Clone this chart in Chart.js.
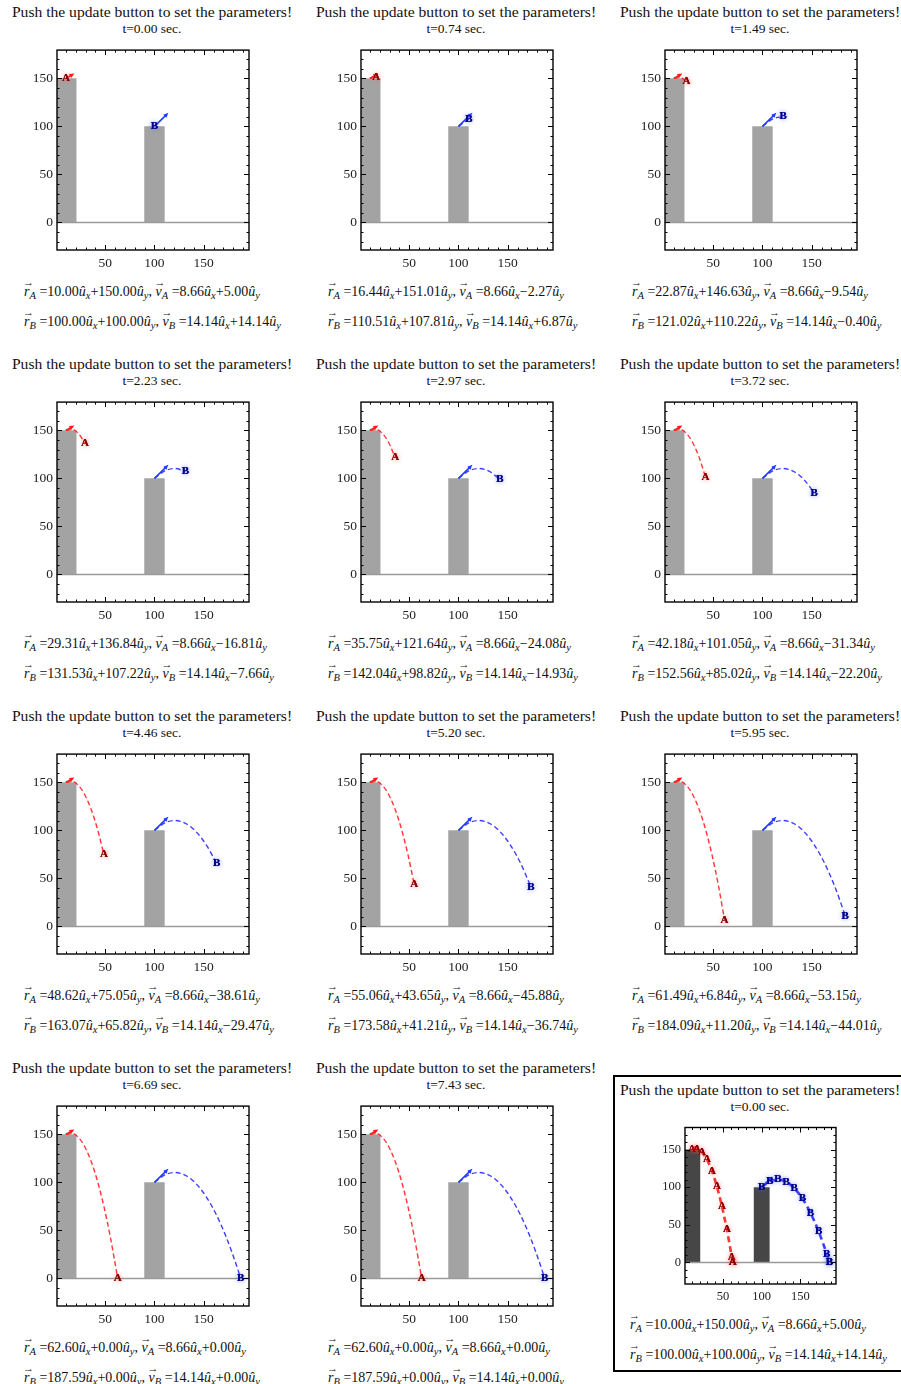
<!DOCTYPE html>
<html>
<head>
<meta charset="utf-8">
<script src="https://cdn.jsdelivr.net/npm/chart.js@4.4.1/dist/chart.umd.min.js"></script>
<style>
    body { margin: 0; background: #fff; width: 901px; height: 1384px; position: relative; overflow: hidden;
           font-family: "Liberation Serif", "DejaVu Serif", serif; color: #111; }
    .panel { position: absolute; width: 304px; height: 352px; }
    .title { position: absolute; left: 0; width: 304px; text-align: center; font-size: 15.6px; line-height: 16px; white-space: nowrap; }
    .time { position: absolute; left: 0; width: 304px; text-align: center; font-size: 13.5px; line-height: 14px; white-space: nowrap; }
    .line { position: absolute; font-size: 14px; line-height: 16px; white-space: nowrap; }
    .line sub { font-size: 10.5px; font-style: italic; vertical-align: -3px; line-height: 0; }
    .vec { position: relative; display: inline-block; font-style: italic; }
    .vec::before { content: "\2192"; position: absolute; left: -1px; top: -10px; font-size: 11px; font-style: normal; }
    .u { font-style: italic; }
    canvas { position: absolute; }
    .box { position: absolute; left: 613px; top: 1075px; width: 300px; height: 297px; border: 2.5px solid #000; box-sizing: border-box; }
</style>
</head>
<body>
<div class="box"></div>
<script>
// Значення, зчитані з підписів під кожним кадром
const times = [0.00, 0.74, 1.49, 2.23, 2.97, 3.72, 4.46, 5.20, 5.95, 6.69, 7.43];
const rAx = [10.00, 16.44, 22.87, 29.31, 35.75, 42.18, 48.62, 55.06, 61.49, 62.60, 62.60];
const rAy = [150.00, 151.01, 146.63, 136.84, 121.64, 101.05, 75.05, 43.65, 6.84, 0.00, 0.00];
const vAx = [8.66, 8.66, 8.66, 8.66, 8.66, 8.66, 8.66, 8.66, 8.66, 8.66, 8.66];
const vAy = [5.00, -2.27, -9.54, -16.81, -24.08, -31.34, -38.61, -45.88, -53.15, 0.00, 0.00];
const rBx = [100.00, 110.51, 121.02, 131.53, 142.04, 152.56, 163.07, 173.58, 184.09, 187.59, 187.59];
const rBy = [100.00, 107.81, 110.22, 107.22, 98.82, 85.02, 65.82, 41.21, 11.20, 0.00, 0.00];
const vBx = [14.14, 14.14, 14.14, 14.14, 14.14, 14.14, 14.14, 14.14, 14.14, 14.14, 14.14];
const vBy = [14.14, 6.87, -0.40, -7.66, -14.93, -22.20, -29.47, -36.74, -44.01, 0.00, 0.00];

// Вежі (ліва/права межа та висота)
const towerLeft = [0, 89.5];
const towerRight = [21, 110.5];
const towerHeight = [150, 100];

// Підписи осей
const xTickLabels = [50, 100, 150];
const yTickLabels = [0, 50, 100, 150];
const xRange = [1, 196];
const yRange = [-28.7, 179.4];

const titleText = "Push the update button to set the parameters!";

function fmt(v) {
    return (v < 0 ? "\u2212" : "") + Math.abs(v).toFixed(2);
}
function fmtSigned(v) {
    return (v < 0 ? "\u2212" : "+") + Math.abs(v).toFixed(2);
}
function vecLine(name, rx, ry, vx, vy) {
    return '<span class="vec">r</span><sub>' + name + '</sub> =' + fmt(rx) + '<span class="u">û</span><sub>x</sub>' +
        fmtSigned(ry) + '<span class="u">û</span><sub>y</sub>, ' +
        '<span class="vec">v</span><sub>' + name + '</sub> =' + fmt(vx) + '<span class="u">û</span><sub>x</sub>' +
        fmtSigned(vy) + '<span class="u">û</span><sub>y</sub>';
}

function path(xs, ys, k) {
    const pts = [];
    for (let i = 0; i <= k; i++) {
        const last = pts[pts.length - 1];
        if (last && last.x === xs[i] && last.y === ys[i]) continue;
        pts.push({ x: xs[i], y: ys[i] });
    }
    return pts;
}

function drawArrow(ctx, x0, y0, x1, y1, color, w) {
    const a = Math.atan2(y1 - y0, x1 - x0);
    const head = 5;
    ctx.save();
    ctx.strokeStyle = color;
    ctx.fillStyle = color;
    ctx.lineWidth = w;
    ctx.beginPath();
    ctx.moveTo(x0, y0);
    ctx.lineTo(x1 - Math.cos(a) * head * 0.6, y1 - Math.sin(a) * head * 0.6);
    ctx.stroke();
    ctx.beginPath();
    ctx.moveTo(x1, y1);
    ctx.lineTo(x1 - head * Math.cos(a) + 2.2 * Math.sin(a), y1 - head * Math.sin(a) - 2.2 * Math.cos(a));
    ctx.lineTo(x1 - head * Math.cos(a) - 2.2 * Math.sin(a), y1 - head * Math.sin(a) + 2.2 * Math.cos(a));
    ctx.closePath();
    ctx.fill();
    ctx.restore();
}

function drawMarker(ctx, text, x, y, color, glow) {
    ctx.save();
    ctx.font = 'bold 11px "Liberation Serif"';
    ctx.textAlign = "center";
    ctx.textBaseline = "middle";
    ctx.shadowColor = glow;
    ctx.shadowBlur = 4;
    ctx.fillStyle = color;
    ctx.fillText(text, x, y);
    ctx.shadowBlur = 0;
    ctx.fillText(text, x, y);
    ctx.restore();
}

// Рамка з внутрішніми поділками, лінія землі, стрілки швидкості та мітки A/B
const framePlugin = {
    id: "frame",
    afterDatasetsDraw(chart, args, opts) {
        const ctx = chart.ctx;
        const xs = chart.scales.x, ys = chart.scales.y;
        const area = chart.chartArea;
        ctx.save();
        ctx.beginPath();
        ctx.rect(area.left, area.top, area.right - area.left, area.bottom - area.top);
        ctx.clip();
        // земля
        ctx.strokeStyle = "#9a9a9a";
        ctx.lineWidth = 1.5;
        ctx.beginPath();
        ctx.moveTo(area.left, ys.getPixelForValue(0));
        ctx.lineTo(area.right, ys.getPixelForValue(0));
        ctx.stroke();
        // стрілки початкових швидкостей
        drawArrow(ctx, xs.getPixelForValue(rAx[0]), ys.getPixelForValue(rAy[0]),
            xs.getPixelForValue(rAx[0] + vAx[0]), ys.getPixelForValue(rAy[0] + vAy[0]), "#ff1a1a", opts.arrowWidth);
        drawArrow(ctx, xs.getPixelForValue(rBx[0]), ys.getPixelForValue(rBy[0]),
            xs.getPixelForValue(rBx[0] + vBx[0]), ys.getPixelForValue(rBy[0] + vBy[0]), "#1a3cff", opts.arrowWidth);
        // мітки
        const from = opts.all ? 0 : opts.k;
        for (let i = from; i <= opts.k; i++) {
            drawMarker(ctx, "A", xs.getPixelForValue(rAx[i]), ys.getPixelForValue(rAy[i]), "#8a0000", "rgba(255,90,90,0.9)");
            drawMarker(ctx, "B", xs.getPixelForValue(rBx[i]), ys.getPixelForValue(rBy[i]), "#00008a", "rgba(90,110,255,0.9)");
        }
        ctx.restore();
    },
    afterDraw(chart) {
        const ctx = chart.ctx;
        const xs = chart.scales.x, ys = chart.scales.y;
        const a = chart.chartArea;
        ctx.save();
        ctx.strokeStyle = "#000";
        ctx.lineWidth = 1;
        ctx.beginPath();
        xs.ticks.forEach(t => {
            const px = Math.round(xs.getPixelForValue(t.value)) + 0.5;
            const len = t.value % 50 === 0 ? 5 : 2.5;
            ctx.moveTo(px, a.bottom); ctx.lineTo(px, a.bottom - len);
            ctx.moveTo(px, a.top); ctx.lineTo(px, a.top + len);
        });
        ys.ticks.forEach(t => {
            const py = Math.round(ys.getPixelForValue(t.value)) + 0.5;
            const len = t.value % 50 === 0 ? 5 : 2.5;
            ctx.moveTo(a.left, py); ctx.lineTo(a.left + len, py);
            ctx.moveTo(a.right, py); ctx.lineTo(a.right - len, py);
        });
        ctx.stroke();
        ctx.lineWidth = 1.4;
        ctx.strokeRect(a.left, a.top, a.right - a.left, a.bottom - a.top);
        ctx.restore();
    }
};

function makePanel(p) {
    const last = p === 11;
    const k = last ? 10 : p;
    const textIdx = last ? 0 : p;
    const left = (p % 3) * 304;
    const top = Math.floor(p / 3) * 352;

    const panel = document.createElement("div");
    panel.className = "panel";
    panel.style.left = left + "px";
    panel.style.top = top + "px";
    document.body.appendChild(panel);

    const g = last
        ? { dy: 22, lineLeft: 22, areaLeft: 77, areaTop: 66, w: 151, h: 162, yW: 36, xH: 20, font: 12.5, l1: 261, l2: 291 }
        : { dy: 0, lineLeft: 24, areaLeft: 57, areaTop: 44, w: 192, h: 206, yW: 40, xH: 22, font: 13.5, l1: 284, l2: 314 };

    panel.innerHTML =
        '<div class="title" style="top:' + (4 + g.dy) + 'px">' + titleText + '</div>' +
        '<div class="time" style="top:' + (22 + g.dy) + 'px">t=' + times[textIdx].toFixed(2) + ' sec.</div>' +
        '<div class="line" style="left:' + g.lineLeft + 'px;top:' + g.l1 + 'px">' +
        vecLine("A", rAx[textIdx], rAy[textIdx], vAx[textIdx], vAy[textIdx]) + '</div>' +
        '<div class="line" style="left:' + g.lineLeft + 'px;top:' + g.l2 + 'px">' +
        vecLine("B", rBx[textIdx], rBy[textIdx], vBx[textIdx], vBy[textIdx]) + '</div>';

    const canvas = document.createElement("canvas");
    canvas.width = g.yW + g.w + 6;
    canvas.height = 6 + g.h + g.xH;
    canvas.style.left = (g.areaLeft - g.yW) + "px";
    canvas.style.top = (g.areaTop - 6) + "px";
    panel.appendChild(canvas);

    const towerColor = last ? "#464646" : "#a3a3a3";
    const towers = towerLeft.map((x0, j) => ({
        type: "line",
        data: [{ x: x0, y: towerHeight[j] }, { x: towerRight[j], y: towerHeight[j] }],
        borderWidth: 0,
        pointRadius: 0,
        backgroundColor: towerColor,
        fill: "origin",
        order: 2
    }));

    const lineW = last ? 2.6 : 1.4;
    const dash = last ? [6, 4] : [5, 3];

    new Chart(canvas.getContext("2d"), {
        type: "scatter",
        data: {
            datasets: [
                {
                    data: path(rAx, rAy, k),
                    showLine: true,
                    borderColor: "rgba(255,30,30,0.9)",
                    borderWidth: lineW,
                    borderDash: dash,
                    pointRadius: 0,
                    cubicInterpolationMode: "monotone",
                    order: 1
                },
                {
                    data: path(rBx, rBy, k),
                    showLine: true,
                    borderColor: "rgba(40,40,255,0.9)",
                    borderWidth: lineW,
                    borderDash: dash,
                    pointRadius: 0,
                    cubicInterpolationMode: "monotone",
                    order: 1
                }
            ].concat(towers)
        },
        options: {
            responsive: false,
            animation: false,
            devicePixelRatio: 1,
            layout: { padding: { left: 0, top: 6, right: 6, bottom: 0 } },
            plugins: {
                legend: { display: false },
                tooltip: { enabled: false },
                frame: { k: k, all: last, arrowWidth: last ? 2 : 1.5 }
            },
            scales: {
                x: {
                    type: "linear",
                    min: xRange[0],
                    max: xRange[1],
                    afterFit: s => { s.height = g.xH; },
                    grid: { display: false, drawTicks: false },
                    border: { display: false },
                    ticks: {
                        stepSize: 10,
                        autoSkip: false,
                        includeBounds: false,
                        maxRotation: 0,
                        padding: 5,
                        color: "#222",
                        font: { family: "Liberation Serif", size: g.font },
                        callback: v => xTickLabels.includes(v) ? String(v) : ""
                    }
                },
                y: {
                    type: "linear",
                    min: yRange[0],
                    max: yRange[1],
                    afterFit: s => { s.width = g.yW; },
                    grid: { display: false, drawTicks: false },
                    border: { display: false },
                    ticks: {
                        stepSize: 10,
                        autoSkip: false,
                        includeBounds: false,
                        padding: 4,
                        color: "#222",
                        font: { family: "Liberation Serif", size: g.font },
                        callback: v => yTickLabels.includes(v) ? String(v) : ""
                    }
                }
            }
        },
        plugins: [framePlugin]
    });
}

for (let p = 0; p < 12; p++) makePanel(p);
</script>
</body>
</html>
